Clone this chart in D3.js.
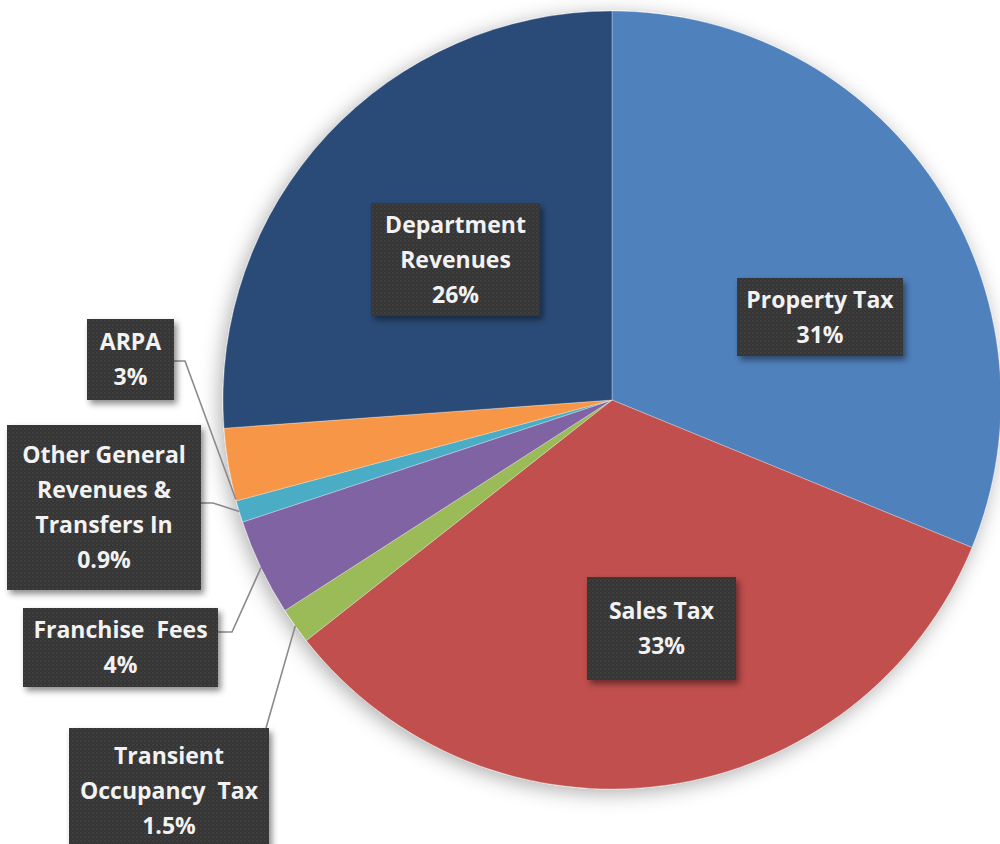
<!DOCTYPE html>
<html>
<head>
<meta charset="utf-8">
<script src="https://cdn.jsdelivr.net/npm/d3@7"></script>
<style>
  html, body { margin: 0; padding: 0; background: #ffffff; }
  svg { display: block; }
</style>
</head>
<body>
<svg id="chart" width="1000" height="844"></svg>
<script>
// Revenue sources, clockwise from 12 o'clock
const categories = [
  "Property Tax",
  "Sales Tax",
  "Transient Occupancy Tax",
  "Franchise Fees",
  "Other General Revenues & Transfers In",
  "ARPA",
  "Department Revenues"
];
const shares = [31, 33, 1.5, 4, 0.9, 3, 26];
const labelLines = [
  ["Property Tax"],
  ["Sales Tax"],
  ["Transient", "Occupancy  Tax"],
  ["Franchise  Fees"],
  ["Other General", "Revenues &", "Transfers In"],
  ["ARPA"],
  ["Department", "Revenues"]
];
const colors = ["#4f81bd", "#c0504d", "#9bbb59", "#8064a2", "#4bacc6", "#f79646", "#2b4b77"];

// Label box placement: [left, top, width, height]; leader runs from the box to a point on the slice rim
const boxLayout = [
  { box: [737, 278, 166, 78] },
  { box: [587, 577, 149, 103] },
  { box: [69, 728, 200, 125], leader: { frac: 0.5, from: [266, 728] } },
  { box: [23, 608, 195, 79], leader: { frac: 0.5, from: [218, 632], elbow: 232 } },
  { box: [7, 425, 194, 165], leader: { frac: 0.5, from: [201, 503], elbow: 213 } },
  { box: [87, 319, 87, 81], leader: { frac: 0.02, from: [174, 361], elbow: 185 } },
  { box: [371, 203, 169, 113] }
];

const svg = d3.select("#chart");
const cx = 612, cy = 400, radius = 389;
const lineH = 35;

const defs = svg.append("defs");

const pieShadow = defs.append("filter").attr("id", "pieShadow")
  .attr("x", "-20%").attr("y", "-20%").attr("width", "140%").attr("height", "140%");
pieShadow.append("feDropShadow")
  .attr("dx", -3).attr("dy", 4).attr("stdDeviation", 10)
  .attr("flood-color", "#000").attr("flood-opacity", 0.32);

const boxShadow = defs.append("filter").attr("id", "boxShadow")
  .attr("x", "-20%").attr("y", "-20%").attr("width", "140%").attr("height", "140%");
boxShadow.append("feDropShadow")
  .attr("dx", 3).attr("dy", 4).attr("stdDeviation", 3)
  .attr("flood-color", "#000").attr("flood-opacity", 0.45);

const dots = defs.append("pattern").attr("id", "dots")
  .attr("width", 4).attr("height", 4).attr("patternUnits", "userSpaceOnUse");
dots.append("rect").attr("width", 4).attr("height", 4).attr("fill", "#363636");
dots.append("circle").attr("cx", 1).attr("cy", 1).attr("r", 0.8).attr("fill", "#4e4e4e");
dots.append("circle").attr("cx", 3).attr("cy", 3).attr("r", 0.6).attr("fill", "#444");

const data = categories.map((c, i) => ({ name: c, value: shares[i], idx: i }));

const pie = d3.pie().sort(null).value(d => d.value);
const arcs = pie(data);
const arc = d3.arc().innerRadius(0).outerRadius(radius);

const pieG = svg.append("g")
  .attr("transform", `translate(${cx},${cy})`)
  .attr("filter", "url(#pieShadow)");

pieG.selectAll("path.slice")
  .data(arcs)
  .join("path")
  .attr("class", "slice")
  .attr("d", arc)
  .attr("fill", d => colors[d.data.idx])
  .attr("stroke", "rgba(255,255,255,0.3)")
  .attr("stroke-width", 1);

// Leader lines for the small slices
const leaderG = svg.append("g");
arcs.forEach((a, i) => {
  const L = boxLayout[i].leader;
  if (!L) return;
  const ang = a.startAngle + L.frac * (a.endAngle - a.startAngle);
  const tx = cx + radius * Math.sin(ang);
  const ty = cy - radius * Math.cos(ang);
  const pts = [L.from];
  if (L.elbow !== undefined) pts.push([L.elbow, L.from[1]]);
  pts.push([tx, ty]);
  leaderG.append("path")
    .attr("d", d3.line()(pts))
    .attr("fill", "none")
    .attr("stroke", "#8a8a8a")
    .attr("stroke-width", 1.6);
});

// Label boxes
const labelG = svg.append("g");
arcs.forEach((a, i) => {
  const [x, y, w, h] = boxLayout[i].box;
  const g = labelG.append("g");
  g.append("rect")
    .attr("x", x).attr("y", y).attr("width", w).attr("height", h)
    .attr("fill", "url(#dots)")
    .attr("filter", "url(#boxShadow)");
  const lines = labelLines[i].concat([a.data.value + "%"]);
  const top = y + h / 2 - (lines.length - 1) * lineH / 2;
  const t = g.append("text")
    .attr("text-anchor", "middle")
    .attr("font-family", "'Open Sans', 'DejaVu Sans', sans-serif")
    .attr("font-weight", 700)
    .attr("font-size", 23)
    .attr("fill", "#f2f2f2")
    .style("white-space", "pre");
  lines.forEach((ln, k) => {
    t.append("tspan")
      .attr("x", x + w / 2)
      .attr("y", top + k * lineH)
      .attr("dy", "0.36em")
      .text(ln);
  });
});
</script>
</body>
</html>
